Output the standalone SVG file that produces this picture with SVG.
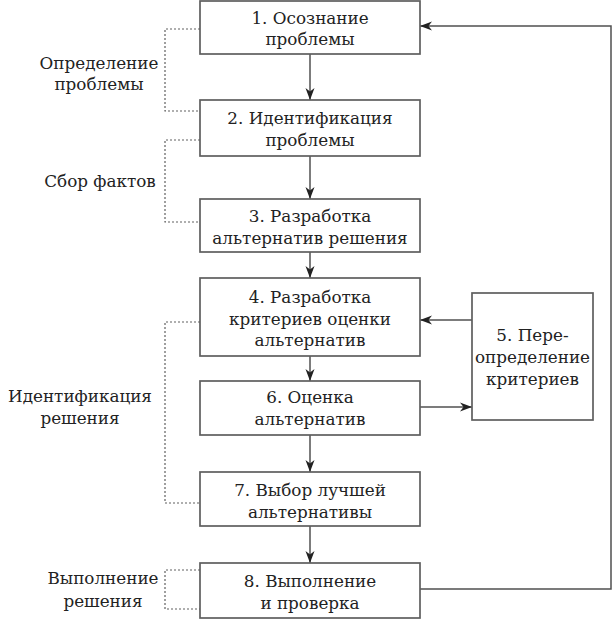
<svg xmlns="http://www.w3.org/2000/svg" width="612" height="620" viewBox="0 0 612 620">
<defs>
<style>
.box{fill:#fff;stroke:#5e5e5e;stroke-width:1.7}
.t{font-family:"DejaVu Serif","Liberation Serif",serif;font-size:16.8px;fill:#222;text-anchor:middle}
.c{fill:none;stroke:#505050;stroke-width:1.5}
.d{fill:none;stroke:#606060;stroke-width:1.2;stroke-dasharray:2 2}
</style>
<marker id="ah" viewBox="0 0 12 10" refX="12" refY="5" markerWidth="12" markerHeight="10" markerUnits="userSpaceOnUse" orient="auto">
<path d="M0,0.5 L12,5 L0,9.5 L3.5,5 Z" fill="#222"/>
</marker>
</defs>
<rect width="612" height="620" fill="#fff"/>
<g id="brackets">
<path class="d" d="M200,29 H165 V111 H200"/>
<path class="d" d="M200,140 H165 V222 H200"/>
<path class="d" d="M200,322 H165 V503 H200"/>
<path class="d" d="M200,570 H165 V609 H200"/>
</g>
<g id="labels">
<text class="t" x="99" y="69">Определение</text>
<text class="t" x="99" y="90">проблемы</text>
<text class="t" x="100" y="187">Сбор фактов</text>
<text class="t" x="80" y="402">Идентификация</text>
<text class="t" x="80" y="424">решения</text>
<text class="t" x="103" y="584">Выполнение</text>
<text class="t" x="103" y="607">решения</text>
</g>
<g id="connectors">
<path class="c" d="M310,54 V100" marker-end="url(#ah)"/>
<path class="c" d="M310,156 V199" marker-end="url(#ah)"/>
<path class="c" d="M310,252 V278" marker-end="url(#ah)"/>
<path class="c" d="M310,356 V381" marker-end="url(#ah)"/>
<path class="c" d="M310,435 V472" marker-end="url(#ah)"/>
<path class="c" d="M310,526 V563" marker-end="url(#ah)"/>
<path class="c" d="M472,320 H420" marker-end="url(#ah)"/>
<path class="c" d="M420,407 H472" marker-end="url(#ah)"/>
<path class="c" d="M420,589 H611 V26 H420" marker-end="url(#ah)"/>
</g>
<g id="n1"><rect class="box" x="200" y="1" width="220" height="53"/>
<text class="t" x="310" y="24">1. Осознание</text><text class="t" x="310" y="45">проблемы</text></g>
<g id="n2"><rect class="box" x="200" y="100" width="220" height="56"/>
<text class="t" x="310" y="124">2. Идентификация</text><text class="t" x="310" y="146">проблемы</text></g>
<g id="n3"><rect class="box" x="200" y="199" width="220" height="53"/>
<text class="t" x="310" y="222">3. Разработка</text><text class="t" x="310" y="244">альтернатив решения</text></g>
<g id="n4"><rect class="box" x="200" y="278" width="220" height="78"/>
<text class="t" x="310" y="303">4. Разработка</text><text class="t" x="310" y="325">критериев оценки</text><text class="t" x="310" y="346">альтернатив</text></g>
<g id="n5"><rect class="box" x="472" y="293" width="121" height="127"/>
<text class="t" x="532.5" y="341">5. Пере-</text><text class="t" x="532.5" y="363">определение</text><text class="t" x="532.5" y="385">критериев</text></g>
<g id="n6"><rect class="box" x="200" y="381" width="220" height="54"/>
<text class="t" x="310" y="403">6. Оценка</text><text class="t" x="310" y="425">альтернатив</text></g>
<g id="n7"><rect class="box" x="200" y="472" width="220" height="54"/>
<text class="t" x="310" y="496">7. Выбор лучшей</text><text class="t" x="310" y="518">альтернативы</text></g>
<g id="n8"><rect class="box" x="200" y="563" width="220" height="55"/>
<text class="t" x="310" y="587">8. Выполнение</text><text class="t" x="310" y="609">и проверка</text></g>
</svg>
